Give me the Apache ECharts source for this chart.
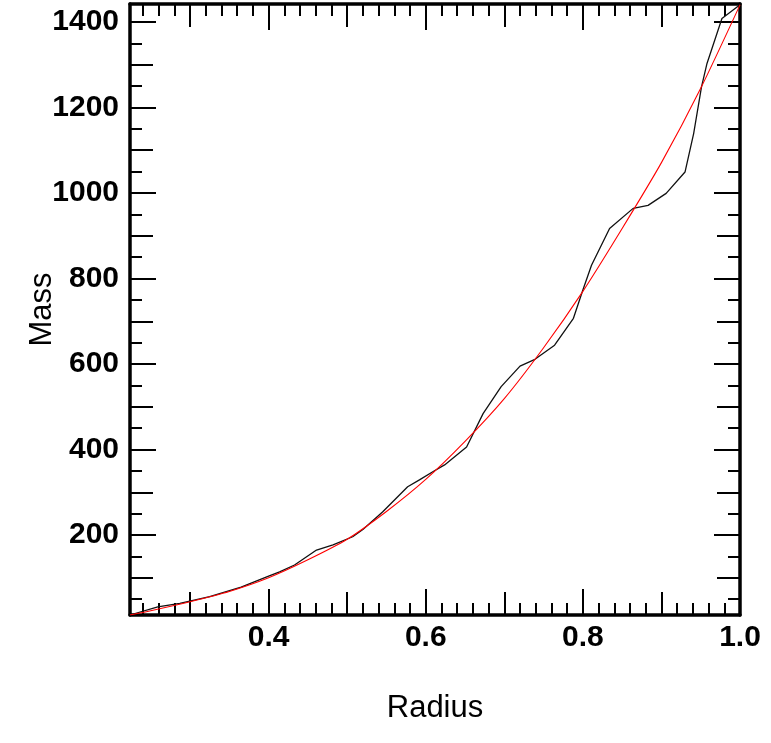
<!DOCTYPE html>
<html>
<head>
<meta charset="utf-8">
<script src="https://cdn.jsdelivr.net/npm/echarts@6/dist/echarts.min.js"></script>
<style>
html,body{margin:0;padding:0;background:#fff;}
#chart{width:771px;height:743px;}
</style>
</head>
<body>
<div id="chart"></div>
<script>
// ---- data ----
const radiusMin = 0.2236;
const radiusMax = 1.0;
const massMin = 13;
const massMax = 1442;

// black (measured) profile
const blackRadius = [0.2236, 0.259, 0.287, 0.325, 0.365, 0.40, 0.414, 0.433, 0.461, 0.482, 0.507, 0.52, 0.545, 0.577, 0.592, 0.609, 0.624, 0.652, 0.673, 0.696, 0.72, 0.739, 0.764, 0.788, 0.80, 0.811, 0.834, 0.864, 0.883, 0.906, 0.930, 0.941, 0.951, 0.958, 0.977, 1.0];
const blackMass   = [13, 32, 40, 56, 78, 104, 114, 130, 165, 177, 196, 213, 254, 313, 329, 348, 364, 406, 484, 547, 595, 611, 644, 707, 773, 831, 917, 964, 971, 999, 1049, 1139, 1248, 1303, 1408, 1440];

// red (fit) curve
const redRadius = [0.2236, 0.25, 0.30, 0.35, 0.40, 0.45, 0.50, 0.55, 0.60, 0.65, 0.70, 0.75, 0.80, 0.85, 0.90, 0.95, 1.0];
const redMass   = [13, 23, 44, 68, 100, 142, 190, 255, 330, 419, 519, 638, 770, 917, 1071, 1245, 1440];

// tick steps
const xMajor = 0.2, xMid = 0.1, xMinor = 0.02;
const yMajor = 200, yMid = 100, yMinor = 50;

const FONT = '"Liberation Sans", Helvetica, Arial, sans-serif';

function pairs(xs, ys) { return xs.map((x, i) => [x, ys[i]]); }

function isMultiple(v, step) {
  const q = v / step;
  return Math.abs(q - Math.round(q)) < 1e-6;
}

function xAxisDef(pos, step, len, showLabel, showLine, name) {
  const a = {
    type: 'value', position: pos, min: radiusMin, max: radiusMax,
    minInterval: step, maxInterval: step,
    splitLine: { show: false },
    axisLine: { show: showLine, lineStyle: { color: '#000', width: 3.5 } },
    axisTick: { show: true, inside: true, length: len, lineStyle: { color: '#000', width: 2 } },
    axisLabel: {
      show: showLabel, margin: 8, color: '#000', fontSize: 30, fontWeight: 'bold', fontFamily: FONT,
      formatter: v => (isMultiple(v, xMajor) && v > 0.3) ? v.toFixed(1) : ''
    }
  };
  if (name) {
    a.name = name; a.nameLocation = 'middle'; a.nameGap = 78; a.nameMoveOverlap = false;
    a.nameTextStyle = { color: '#000', fontSize: 31, fontFamily: FONT };
  }
  return a;
}

function yAxisDef(pos, step, len, showLabel, showLine, name) {
  const a = {
    type: 'value', position: pos, min: massMin, max: massMax,
    minInterval: step, maxInterval: step,
    splitLine: { show: false },
    axisLine: { show: showLine, lineStyle: { color: '#000', width: 3.5 } },
    axisTick: { show: true, inside: true, length: len, lineStyle: { color: '#000', width: 2 } },
    axisLabel: {
      show: showLabel, margin: 11, color: '#000', fontSize: 30, fontWeight: 'bold', fontFamily: FONT,
      formatter: v => (isMultiple(v, yMajor) && v > 100) ? String(Math.round(v)) : ''
    }
  };
  if (name) {
    a.name = name; a.nameLocation = 'middle'; a.nameGap = 72; a.nameRotate = 90; a.nameMoveOverlap = false;
    a.nameTextStyle = { color: '#000', fontSize: 31, fontFamily: FONT };
  }
  return a;
}

const chart = echarts.init(document.getElementById('chart'), null, { renderer: 'canvas' });
chart.setOption({
  animation: false,
  backgroundColor: '#fff',
  grid: { left: 130, right: 31, top: 4, bottom: 128, containLabel: false },
  xAxis: [
    xAxisDef('bottom', xMajor, 26, true, true, 'Radius'),
    xAxisDef('bottom', xMid, 23, false, false),
    xAxisDef('bottom', xMinor, 12, false, false),
    xAxisDef('top', xMajor, 26, false, true),
    xAxisDef('top', xMid, 23, false, false),
    xAxisDef('top', xMinor, 12, false, false)
  ],
  yAxis: [
    yAxisDef('left', yMajor, 26, true, true, 'Mass'),
    yAxisDef('left', yMid, 23, false, false),
    yAxisDef('left', yMinor, 12, false, false),
    yAxisDef('right', yMajor, 26, false, true),
    yAxisDef('right', yMid, 23, false, false),
    yAxisDef('right', yMinor, 12, false, false)
  ],
  series: [
    {
      type: 'line', xAxisIndex: 0, yAxisIndex: 0, data: pairs(blackRadius, blackMass),
      showSymbol: false, symbol: 'none', lineStyle: { color: '#111', width: 1.3 }, z: 3
    },
    {
      type: 'line', xAxisIndex: 0, yAxisIndex: 0, data: pairs(redRadius, redMass),
      smooth: 0.25, showSymbol: false, symbol: 'none', lineStyle: { color: '#ff0000', width: 1.1 }, z: 4
    }
  ]
});
</script>
</body>
</html>
